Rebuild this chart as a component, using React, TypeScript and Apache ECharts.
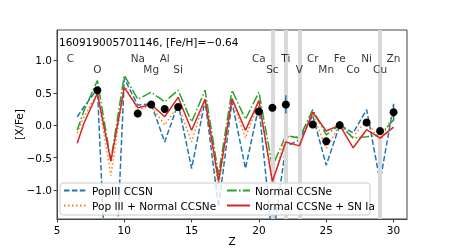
import React, { useEffect, useRef } from 'react';
import * as echarts from 'echarts';

// Model curves: atomic number Z
const modelZ = [6.5, 7, 8, 9, 10, 11, 12, 13, 14, 15, 16, 17, 18, 19, 20, 21, 22, 23, 24, 25, 26, 27, 28, 29, 30];
const popIIICCSN = [0.13, 0.28, 0.56, -4.0, 0.72, 0.31, 0.33, -0.26, 0.33, -0.67, 0.38, -1.26, 0.36, -0.67, 0.3, -1.8, -0.33, -0.23, 0.15, -0.62, 0.0, -0.12, 0.24, -0.87, 0.31];
const popIIINormal = [-0.12, 0.13, 0.5, -0.78, 0.62, 0.24, 0.3, 0.0, 0.3, -0.26, 0.42, -0.95, 0.4, -0.2, 0.38, -0.9, -0.18, -0.18, 0.18, -0.36, 0.0, -0.18, 0.08, -0.26, 0.18];
const normalCCSNe = [-0.08, 0.22, 0.69, -0.55, 0.77, 0.4, 0.51, 0.36, 0.54, 0.05, 0.54, -0.77, 0.54, 0.09, 0.51, -0.64, -0.16, -0.2, 0.24, -0.15, 0.0, -0.2, -0.18, -0.15, 0.08];
const normalSNIa = [-0.28, 0.03, 0.49, -0.56, 0.58, 0.27, 0.32, 0.13, 0.43, -0.08, 0.4, -0.87, 0.41, -0.08, 0.38, -0.87, -0.26, -0.32, 0.2, -0.09, 0.0, -0.35, -0.07, -0.2, -0.03];

// Observed abundances
const obsZ = [8, 11, 12, 13, 14, 20, 21, 22, 24, 25, 26, 28, 29, 30];
const obsVal = [0.54, 0.18, 0.32, 0.25, 0.28, 0.21, 0.27, 0.32, 0.01, -0.25, 0.0, 0.04, -0.09, 0.2];
const obsErr = [0, 0, 0, 0, 0, 0, 0, 0.14, 0, 0, 0, 0, 0, 0.13];

// Element labels
const elemNames = ['C', 'O', 'Na', 'Mg', 'Al', 'Si', 'Ca', 'Sc', 'Ti', 'V', 'Cr', 'Mn', 'Fe', 'Co', 'Ni', 'Cu', 'Zn'];
const elemZ = [6, 8, 11, 12, 13, 14, 20, 21, 22, 23, 24, 25, 26, 27, 28, 29, 30];
const elemRow = [1, 2, 1, 2, 1, 2, 1, 2, 1, 2, 1, 2, 1, 2, 1, 2, 1];

// Highlighted elements (grey bands)
const bandZ = [21, 22, 23, 29];

const xTicks = [5, 10, 15, 20, 25, 30];
const yTicks = [-1.0, -0.5, 0.0, 0.5, 1.0];

const titleText = '160919005701146, [Fe/H]=\u22120.64';
const seriesNames = ['PopIII CCSN', 'Pop III + Normal CCSNe', 'Normal CCSNe', 'Normal CCSNe + SN Ia'];

const FONT = 'DejaVu Sans';
const FS = 10.5;

export default function App() {
  const ref = useRef<HTMLDivElement>(null);
  useEffect(() => {
    if (!ref.current) return;
    const chart = echarts.init(ref.current, undefined, { renderer: 'svg' });
    const zip = (ys: number[]) => modelZ.map((z, i) => [z, ys[i]]);
    const lineSeries = (name: string, ys: number[], color: string, type: any, z: number) => ({
      name,
      type: 'line',
      data: zip(ys),
      symbol: 'none',
      showSymbol: false,
      z,
      lineStyle: { color, width: 1.5, type },
      itemStyle: { color },
    });
    const fmt = (v: number) => (v < 0 ? '\u2212' + Math.abs(v).toFixed(1) : v.toFixed(1));
    const legendBase = {
      orient: 'vertical',
      top: 185,
      itemWidth: 23,
      itemHeight: 10,
      itemGap: 4,
      padding: 0,
      textStyle: { fontSize: FS, color: '#000', fontFamily: FONT },
      itemStyle: { color: 'rgba(0,0,0,0)', borderWidth: 0, opacity: 0 },
      z: 10,
    };
    const option: any = {
      animation: false,
      textStyle: { fontFamily: FONT },
      title: {
        text: titleText,
        left: 59,
        top: 36,
        padding: 0,
        textStyle: { fontSize: FS, fontWeight: 'normal', color: '#000', fontFamily: FONT },
      },
      grid: {
        left: 57, right: 45, top: 30, bottom: 32,
        containLabel: false, outerBoundsMode: 'none',
        show: true, borderColor: '#444', borderWidth: 1, backgroundColor: 'transparent',
      },
      xAxis: {
        type: 'value',
        min: 5,
        max: 31,
        name: 'Z',
        nameLocation: 'middle',
        nameGap: 16,
        nameMoveOverlap: false,
        nameTextStyle: { fontSize: FS, color: '#000', fontFamily: FONT },
        axisLine: { onZero: false, lineStyle: { color: '#444' } },
        axisTick: { length: 3.5, customValues: xTicks, lineStyle: { color: '#444' } },
        axisLabel: { customValues: xTicks, fontSize: FS, color: '#000', margin: 5, fontFamily: FONT },
        splitLine: { show: false },
      },
      yAxis: {
        type: 'value',
        min: -1.45,
        max: 1.47,
        name: '[X/Fe]',
        nameLocation: 'middle',
        nameGap: 33,
        nameMoveOverlap: false,
        nameTextStyle: { fontSize: FS, color: '#000', fontFamily: FONT },
        axisLine: { show: true, onZero: false, lineStyle: { color: '#444' } },
        axisTick: { show: true, length: 3.5, customValues: yTicks, lineStyle: { color: '#444' } },
        axisLabel: { customValues: yTicks, fontSize: FS, color: '#000', margin: 5, formatter: fmt, fontFamily: FONT },
        splitLine: { show: false },
      },
      legend: [
        { ...legendBase, data: [seriesNames[0], seriesNames[1]], left: 63 },
        { ...legendBase, data: [seriesNames[2], seriesNames[3]], left: 226 },
      ],
      graphic: [
        {
          type: 'rect',
          z: 8,
          shape: { x: 60, y: 183, width: 310, height: 32, r: 3 },
          style: { fill: 'rgba(255,255,255,0.8)', stroke: '#cccccc', lineWidth: 1 },
          silent: true,
        },
      ],
      series: [
        {
          name: 'bands',
          type: 'line',
          data: [],
          z: 1,
          markLine: {
            silent: true,
            symbol: ['none', 'none'],
            label: { show: false },
            lineStyle: { color: '#d9d9d9', width: 4, type: 'solid' },
            data: bandZ.map((z) => ({ xAxis: z })),
          },
        },
        lineSeries(seriesNames[0], popIIICCSN, '#1f77b4', [5.5, 2.4], 2),
        lineSeries(seriesNames[1], popIIINormal, '#ff7f0e', [1.5, 2.5], 3),
        lineSeries(seriesNames[2], normalCCSNe, '#2ca02c', [9.6, 2.4, 1.5, 2.4], 4),
        lineSeries(seriesNames[3], normalSNIa, '#d62728', 'solid', 5),
        {
          name: 'err',
          type: 'custom',
          z: 6,
          data: obsZ.map((z, i) => [z, obsVal[i], obsErr[i]]),
          renderItem: (params: any, api: any) => {
            const x = api.value(0);
            const y = api.value(1);
            const e = api.value(2);
            const p1 = api.coord([x, y - e]);
            const p2 = api.coord([x, y + e]);
            return {
              type: 'line',
              shape: { x1: p1[0], y1: p1[1], x2: p2[0], y2: p2[1] },
              style: { stroke: '#1f77b4', lineWidth: 1.5 },
            };
          },
        },
        {
          name: 'obs',
          type: 'scatter',
          z: 7,
          symbolSize: 8,
          itemStyle: { color: '#000', opacity: 1 },
          data: obsZ.map((z, i) => [z, obsVal[i]]),
        },
        {
          name: 'labels',
          type: 'scatter',
          z: 7,
          symbolSize: 1,
          itemStyle: { color: 'rgba(0,0,0,0)' },
          label: {
            show: true,
            position: 'inside',
            formatter: '{b}',
            fontSize: FS,
            color: '#000',
            fontFamily: FONT,
          },
          data: elemZ.map((z, i) => ({ name: elemNames[i], value: [z, elemRow[i] === 1 ? 1.03 : 0.87] })),
        },
      ],
    };
    chart.setOption(option);
    return () => chart.dispose();
  }, []);
  return <div ref={ref} style={{ width: 452, height: 251, position: 'fixed', left: 0, top: 0 }} />;
}
